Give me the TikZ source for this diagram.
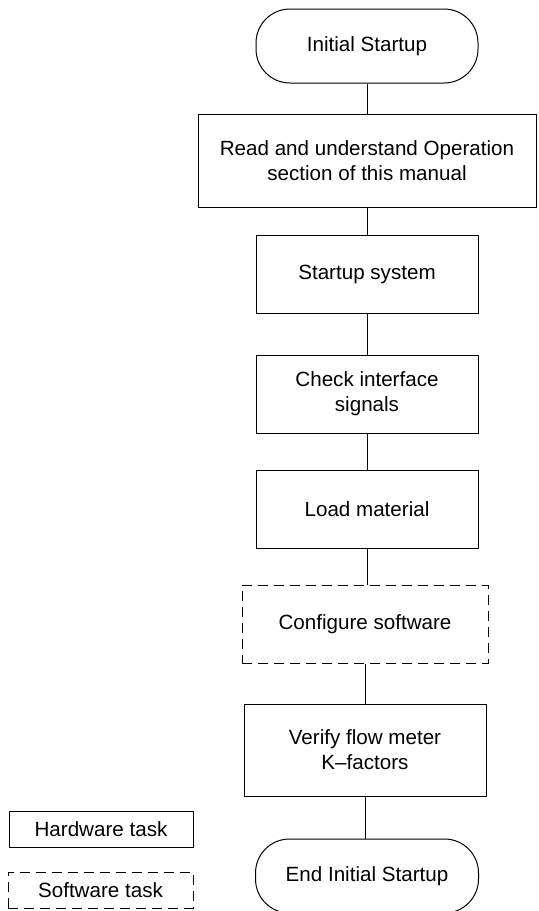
\documentclass[tikz,border=0pt]{standalone}
\usepackage{fontspec}
\setmainfont{Liberation Sans}
\tikzset{
  every node/.style={font=\fontsize{10.3}{12.5}\selectfont, align=center, line width=0.5pt},
  hwbox/.style={draw, rectangle, minimum width=111pt, minimum height=39pt, inner sep=1pt},
  swbox/.style={hwbox, dash pattern=on 5pt off 3pt},
  termbox/.style={draw, rectangle, rounded corners=17pt, minimum width=111pt, minimum height=37pt},
}
\begin{document}
\begin{tikzpicture}[x=0.5pt,y=-0.5pt,line width=0.5pt]
\useasboundingbox (0,0) rectangle (538,911);
\node[termbox](init) at (367,46) {Initial Startup};
\node[hwbox,minimum width=169pt,minimum height=46.5pt](read) at (367,160.5) {Read and understand Operation\\section of this manual};
\node[hwbox](startup) at (367,274) {Startup system};
\node[hwbox](check) at (367,394) {Check interface\\signals};
\node[hwbox](load) at (367,509) {Load material};
\node[swbox,minimum width=123pt](config) at (365,624) {Configure software};
\node[hwbox,minimum width=121pt,minimum height=46pt](verify) at (365,750) {Verify flow meter\\K--factors};
\node[termbox,minimum width=111.5pt](end) at (367,876) {End Initial Startup};

\node[hwbox,minimum width=92pt,minimum height=18pt](hwkey) at (101,829) {Hardware task};
\node[swbox,minimum width=92.5pt,minimum height=18pt](swkey) at (100.5,890) {Software task};

\draw (init) -- (read);
\draw (read) -- (startup);
\draw (startup) -- (check);
\draw (check) -- (load);
\draw (load) -- (load|-config.north);
\draw (config) -- (verify);
\draw (verify) -- (verify|-end.north);
\end{tikzpicture}
\end{document}
